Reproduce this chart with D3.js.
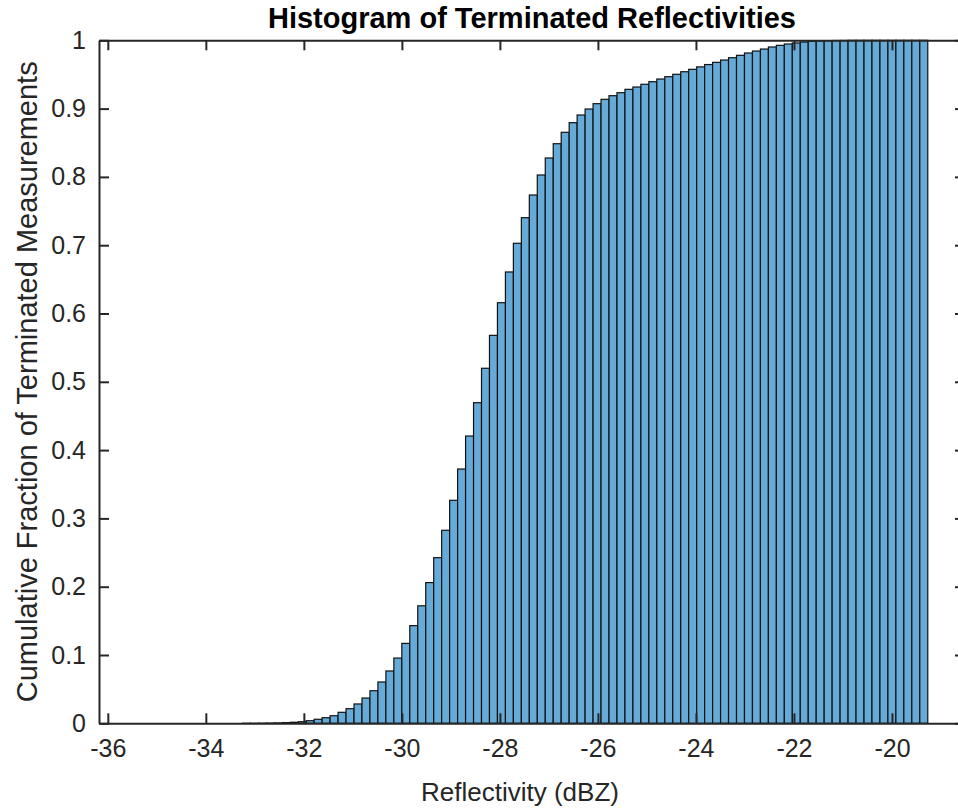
<!DOCTYPE html>
<html>
<head>
<meta charset="utf-8">
<script src="https://cdn.jsdelivr.net/npm/d3@7"></script>
<style>
  html, body { margin: 0; padding: 0; background: #fff; }
  svg { display: block; font-family: "Liberation Sans", Arial, Helvetica, sans-serif; }
</style>
</head>
<body>
<svg id="chart" width="958" height="809"></svg>
<script>
// ---- data ----
const binStart = -36.18;     // left edge of first bin (dBZ)
const binWidth = 0.1626;     // bin width (dBZ)
const cdfValues = [
  0, 0, 0, 0, 0, 0, 0, 0, 0, 0,
  0, 0, 0, 0, 0, 0, 0, 0, 0.0001, 0.0001,
  0.0002, 0.0004, 0.0006, 0.0010, 0.0015, 0.0023, 0.0038, 0.0059, 0.0082, 0.0111,
  0.0161, 0.0214, 0.0283, 0.0370, 0.0477, 0.0605, 0.0766, 0.0955, 0.1170, 0.1430,
  0.1720, 0.2060, 0.2425, 0.2826, 0.3265, 0.3723, 0.4206, 0.4694, 0.5198, 0.5680,
  0.6158, 0.6608, 0.7028, 0.7403, 0.7735, 0.8028, 0.8277, 0.8486, 0.8653, 0.8794,
  0.8906, 0.8994, 0.9072, 0.9136, 0.9189, 0.9233, 0.9282, 0.9316, 0.9356, 0.9394,
  0.9433, 0.9467, 0.9502, 0.9540, 0.9575, 0.9611, 0.9645, 0.9677, 0.9711, 0.9745,
  0.9780, 0.9814, 0.9843, 0.9872, 0.9902, 0.9926, 0.9946, 0.9961, 0.9975, 0.9985,
  0.9991, 0.9995, 0.9997, 0.9998, 1, 1, 1, 1, 1, 1,
  1, 1, 1, 1
];
const xTicks = [-36, -34, -32, -30, -28, -26, -24, -22, -20];
const yTicks = [0, 0.1, 0.2, 0.3, 0.4, 0.5, 0.6, 0.7, 0.8, 0.9, 1];
const xDomain = [-36.18, -18.51];
const yDomain = [0, 1];
const titleText = "Histogram of Terminated Reflectivities";
const xLabelText = "Reflectivity (dBZ)";
const yLabelText = "Cumulative Fraction of Terminated Measurements";

// ---- layout ----
const plotL = 99, plotR = 965, plotT = 40.3, plotB = 723.3;
const textColor = "#262626";

const svg = d3.select("#chart");
const x = d3.scaleLinear().domain(xDomain).range([plotL, plotR]);
const y = d3.scaleLinear().domain(yDomain).range([plotB, plotT]);

const bins = cdfValues.map((v, i) => ({
  x0: binStart + i * binWidth,
  x1: binStart + (i + 1) * binWidth,
  v
}));

// bars
svg.append("g")
  .selectAll("rect")
  .data(bins)
  .join("rect")
  .attr("x", d => x(d.x0))
  .attr("width", d => x(d.x1) - x(d.x0))
  .attr("y", d => y(d.v))
  .attr("height", d => y(0) - y(d.v))
  .attr("fill", "#66aad7")
  .attr("stroke", "#111")
  .attr("stroke-width", 1.2);

// axes
function styleAxis(g) {
  g.select(".domain").attr("stroke", textColor).attr("stroke-width", 2);
  g.selectAll(".tick line").attr("stroke", textColor).attr("stroke-width", 2);
  g.selectAll(".tick text").attr("fill", textColor).attr("font-size", 25);
  g.attr("font-family", null);
}

svg.append("g")
  .attr("transform", `translate(0,${plotB})`)
  .call(d3.axisBottom(x).tickValues(xTicks).tickSize(-10).tickPadding(16).tickSizeOuter(0)
        .tickFormat(d => String(d)))
  .call(styleAxis);

svg.append("g")
  .attr("transform", `translate(0,${plotT})`)
  .call(d3.axisTop(x).tickValues(xTicks).tickSize(-10).tickSizeOuter(0).tickFormat(""))
  .call(styleAxis);

svg.append("g")
  .attr("transform", `translate(${plotL},0)`)
  .call(d3.axisLeft(y).tickValues(yTicks).tickSize(-10).tickPadding(13).tickSizeOuter(0)
        .tickFormat(d => String(+d.toFixed(1))))
  .call(styleAxis);

svg.append("g")
  .attr("transform", `translate(${plotR},0)`)
  .call(d3.axisRight(y).tickValues(yTicks).tickSize(-10).tickSizeOuter(0).tickFormat(""))
  .call(styleAxis);

// title and labels
svg.append("text")
  .attr("x", (plotL + plotR) / 2)
  .attr("y", 28)
  .attr("text-anchor", "middle")
  .attr("font-size", 29)
  .attr("font-weight", "bold")
  .attr("fill", "#000")
  .text(titleText);

svg.append("text")
  .attr("x", (plotL + plotR) / 2 - 12)
  .attr("y", 801)
  .attr("text-anchor", "middle")
  .attr("font-size", 26)
  .attr("fill", textColor)
  .text(xLabelText);

svg.append("text")
  .attr("transform", `translate(37,${(plotT + plotB) / 2}) rotate(-90)`)
  .attr("text-anchor", "middle")
  .attr("font-size", 29)
  .attr("fill", textColor)
  .text(yLabelText);
</script>
</body>
</html>
